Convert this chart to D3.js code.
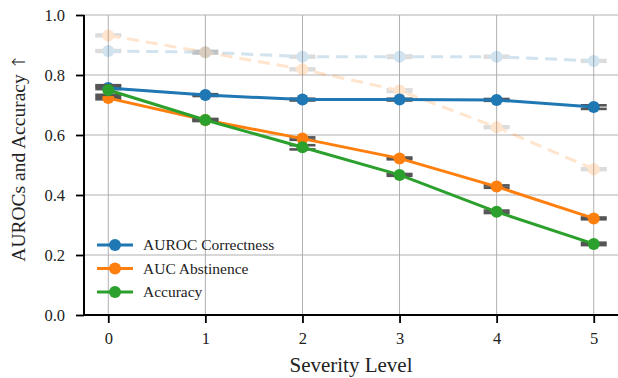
<!DOCTYPE html>
<html>
<head>
<meta charset="utf-8">
<script src="https://cdn.jsdelivr.net/npm/d3@7"></script>
<style>
  html, body { margin: 0; padding: 0; background: #fff; }
  svg { display: block; }
  text { font-family: "Liberation Serif", "DejaVu Serif", serif; fill: #222; }
</style>
</head>
<body>
<script>
// Severity levels on the x axis
const levels = [0, 1, 2, 3, 4, 5];
const yTicks = [0.0, 0.2, 0.4, 0.6, 0.8, 1.0];

// Main series (solid)
const aurocCorrectness = [0.757, 0.733, 0.718, 0.718, 0.717, 0.693];
const aucAbstinence    = [0.723, 0.650, 0.588, 0.522, 0.428, 0.322];
const accuracy         = [0.750, 0.650, 0.559, 0.467, 0.344, 0.237];

// Half-width of the error bars for the main series
const aurocErr    = [0.004, 0.003, 0.003, 0.003, 0.003, 0.006];
const abstErr     = [0.004, 0.003, 0.004, 0.003, 0.004, 0.003];
const accErr      = [0.016, 0.003, 0.007, 0.003, 0.004, 0.004];

// Reference series (faint, dashed)
const aurocRef = [0.880, 0.876, 0.861, 0.861, 0.861, 0.847];
const abstRef  = [0.932, 0.876, 0.819, 0.748, 0.626, 0.486];
const refErr   = [0.003, 0.004, 0.003, 0.004, 0.003, 0.003];

const seriesNames = ["AUROC Correctness", "AUC Abstinence", "Accuracy"];
const colors = ["#1f77b4", "#ff7f0e", "#2ca02c"];

const W = 618, H = 378;
const margin = { left: 84, top: 15, right: 0, bottom: 63 };

const svg = d3.select("body").append("svg").attr("width", W).attr("height", H);

const x = d3.scaleLinear().domain([-0.25, 5.25]).range([margin.left, W - margin.right]);
const y = d3.scaleLinear().domain([0, 1]).range([H - margin.bottom, margin.top]);

// Grid
const grid = svg.append("g");
grid.selectAll("line.gx").data(levels).join("line")
  .attr("x1", d => x(d)).attr("x2", d => x(d))
  .attr("y1", y(0)).attr("y2", y(1))
  .attr("stroke", "#b0b0b0").attr("stroke-width", 1);
grid.selectAll("line.gy").data(yTicks).join("line")
  .attr("x1", x(-0.25)).attr("x2", W)
  .attr("y1", d => y(d)).attr("y2", d => y(d))
  .attr("stroke", "#b0b0b0").attr("stroke-width", 1);

const capHalf = 13;

function drawSeries(values, errs, color, opts) {
  const g = svg.append("g").attr("opacity", opts.opacity);
  const pts = levels.map((l, i) => ({ l, v: values[i], e: errs[i] }));
  // error bar caps
  pts.forEach(p => {
    [p.v - p.e, p.v + p.e].forEach(c => {
      g.append("line")
        .attr("x1", x(p.l) - capHalf).attr("x2", x(p.l) + capHalf)
        .attr("y1", y(c)).attr("y2", y(c))
        .attr("stroke", "#555").attr("stroke-width", 2.6);
    });
    g.append("line")
      .attr("x1", x(p.l)).attr("x2", x(p.l))
      .attr("y1", y(p.v - p.e)).attr("y2", y(p.v + p.e))
      .attr("stroke", "#555").attr("stroke-width", 2);
  });
  const line = d3.line().x(d => x(d.l)).y(d => y(d.v));
  g.append("path").datum(pts)
    .attr("d", line).attr("fill", "none")
    .attr("stroke", color).attr("stroke-width", 3)
    .attr("stroke-dasharray", opts.dash || null);
  g.selectAll("circle").data(pts).join("circle")
    .attr("cx", d => x(d.l)).attr("cy", d => y(d.v)).attr("r", 6)
    .attr("fill", color);
}

// faint reference curves
drawSeries(aurocRef, refErr, colors[0], { opacity: 0.2, dash: "12,7" });
drawSeries(abstRef, refErr, colors[1], { opacity: 0.2, dash: "12,7" });

// main curves
drawSeries(aurocCorrectness, aurocErr, colors[0], { opacity: 1 });
drawSeries(aucAbstinence, abstErr, colors[1], { opacity: 1 });
drawSeries(accuracy, accErr, colors[2], { opacity: 1 });

// Axes
const xAxis = svg.append("g").attr("transform", `translate(0,${y(0)})`)
  .call(d3.axisBottom(x).tickValues(levels).tickFormat(d3.format("d")).tickSize(8).tickPadding(9));
const yAxis = svg.append("g").attr("transform", `translate(${margin.left},0)`)
  .call(d3.axisLeft(y).tickValues(yTicks).tickFormat(d3.format(".1f")).tickSize(8).tickPadding(11));
[xAxis, yAxis].forEach(a => {
  a.attr("font-family", null).attr("font-size", null);
  a.select(".domain").attr("stroke", "#000").attr("stroke-width", 2);
  a.selectAll(".tick line").attr("stroke", "#000").attr("stroke-width", 1.8);
  a.selectAll(".tick text").attr("fill", "#222")
    .style("font-size", "16.5px")
    .style("font-family", "'Liberation Serif', serif");
});
xAxis.select(".domain").attr("d", `M${margin.left},0H${W}`);
yAxis.select(".domain").attr("d", `M0,${y(0)}V${y(1)}`);

// Axis labels
svg.append("text")
  .attr("x", 351).attr("y", 372)
  .attr("text-anchor", "middle").attr("font-size", 21)
  .text("Severity Level");
const yLabel = svg.append("text")
  .attr("transform", `translate(25,158) rotate(-90)`)
  .attr("text-anchor", "middle").attr("font-size", 19.5);
yLabel.append("tspan").text("AUROCs and Accuracy ");
yLabel.append("tspan").style("font-family", "'DejaVu Sans', sans-serif")
  .attr("font-weight", 300).attr("font-size", 18).text("↑");

// Legend
const legend = svg.append("g").attr("transform", "translate(97,245)");
seriesNames.forEach((name, i) => {
  const row = legend.append("g").attr("transform", `translate(0,${i * 23.5})`);
  row.append("line").attr("x1", 0).attr("x2", 36).attr("y1", 0).attr("y2", 0)
    .attr("stroke", colors[i]).attr("stroke-width", 3);
  row.append("circle").attr("cx", 18).attr("cy", 0).attr("r", 6).attr("fill", colors[i]);
  row.append("text").attr("x", 46).attr("y", 0).attr("dy", "0.35em")
    .attr("font-size", 15.5).text(name);
});
</script>
</body>
</html>
